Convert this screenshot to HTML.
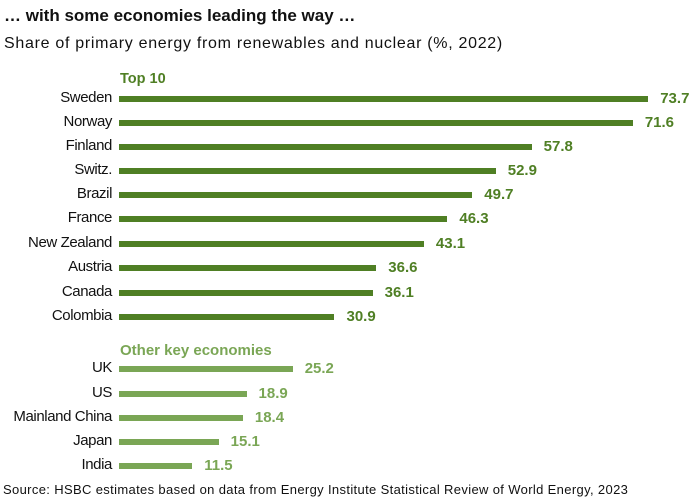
<!DOCTYPE html>
<html><head><style>
body{margin:0;width:696px;height:500px;background:#fff;font-family:"Liberation Sans",sans-serif;position:relative;overflow:hidden}
.t{position:absolute;white-space:nowrap}
.l{position:absolute;right:584px;font-size:15px;color:#111;white-space:nowrap;letter-spacing:-0.4px}
.b{position:absolute;left:119px;height:6px}
.v{position:absolute;font-size:15px;font-weight:bold;white-space:nowrap}
</style></head><body>
<div class="t" style="left:4px;top:6px;font-size:17px;font-weight:bold;color:#111">… with some economies leading the way …</div>
<div class="t" style="left:4px;top:35px;font-size:16px;color:#111;letter-spacing:0.7px">Share of primary energy from renewables and nuclear (%, 2022)</div>
<div class="t" style="left:120px;top:71px;font-size:14.5px;font-weight:bold;color:#4f7f24">Top 10</div>
<div class="t" style="left:120px;top:342px;font-size:15px;font-weight:bold;color:#7aa655">Other key economies</div>
<div class="t" style="left:3px;top:482px;font-size:13px;color:#111;letter-spacing:0.35px">Source: HSBC estimates based on data from Energy Institute Statistical Review of World Energy, 2023</div>
<div id="c"></div>
<script>
var d=[["Sweden",73.7,98,0],["Norway",71.6,122,0],["Finland",57.8,146,0],["Switz.",52.9,170,0],["Brazil",49.7,194,0],["France",46.3,218,0],["New Zealand",43.1,243,0],["Austria",36.6,267,0],["Canada",36.1,292,0],["Colombia",30.9,316,0],["UK",25.2,368,1],["US",18.9,393,1],["Mainland China",18.4,417,1],["Japan",15.1,441,1],["India",11.5,465,1]];
var h="";d.forEach(function(r){var col=r[3]?"#7aa655":"#4f7f24";var e=108+7.33*r[1];
h+='<div class="l" style="top:'+(r[2]-9)+'px">'+r[0]+'</div>';
h+='<div class="b" style="top:'+(r[2]-2)+'px;width:'+(e-119)+'px;background:'+col+'"></div>';
h+='<div class="v" style="left:'+(e+12)+'px;top:'+(r[2]-8)+'px;color:'+col+'">'+r[1].toFixed(1)+'</div>';});
document.getElementById("c").innerHTML=h;
</script>
</body></html>
